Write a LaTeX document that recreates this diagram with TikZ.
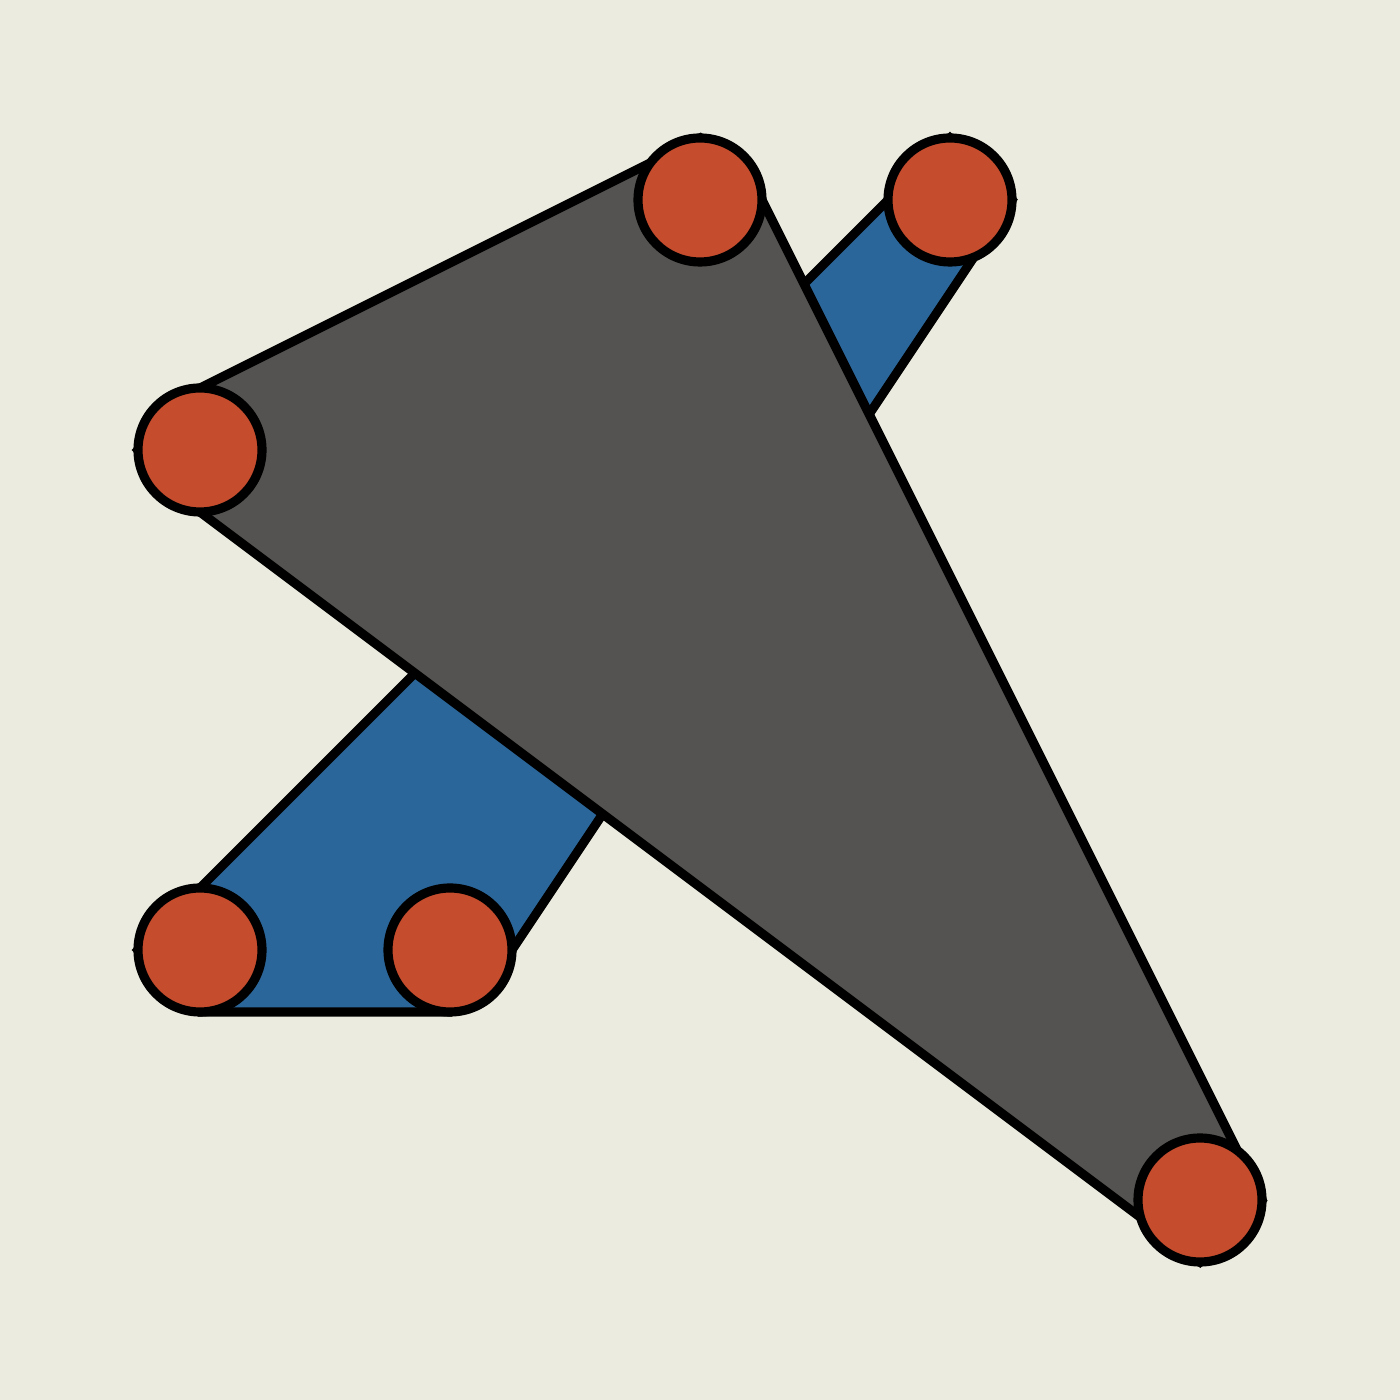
\documentclass[tikz,border=0pt]{standalone}
\usetikzlibrary{calc}
\definecolor{paper}{RGB}{235,235,224}
\definecolor{linkblue}{RGB}{43,102,154}
\definecolor{plategray}{RGB}{84,83,81}
\definecolor{pinred}{RGB}{197,76,45}
\tikzset{
        pin/.style={circle, draw=black, line width=2.6pt, fill=pinred, minimum size=1.24cm, inner sep=0pt},
        bar/.style={draw=black, line width=2.6pt, fill=linkblue},
        plate/.style={draw=black, line width=2.6pt, fill=plategray}
          }
\begin{document}
\begin{tikzpicture}
        \fill[paper] (0,0) rectangle (14,14);
        \useasboundingbox (0,0) rectangle (14,14);
        \def\r{0.62}
        \coordinate (a) at (2,4.5);
        \coordinate (b) at (4.5,4.5);
        \coordinate (c) at (9.5,12);
        \coordinate (d) at (7,12);
        \coordinate (e) at (2,9.5);
        \coordinate (f) at (12,2);
        \draw[bar] ($(a)+(-\r,0)$) -- ($(a)+(0,-\r)$) -- ($(b)+(0,-\r)$) -- ($(b)+(\r,0)$)
          -- ($(c)+(\r,0)$) -- ($(c)+(0,\r)$) -- cycle;
        \draw[plate] ($(d)+(0,\r)$) -- ($(d)+(\r,0)$) -- ($(f)+(\r,0)$) -- ($(f)+(0,-\r)$)
          -- ($(e)+(0,-\r)$) -- ($(e)+(-\r,0)$) -- ($(e)+(0,\r)$) -- cycle;
        \node[pin] (pa) at (a) {};
        \node[pin] (pb) at (b) {};
        \node[pin] (pc) at (c) {};
        \node[pin] (pd) at (d) {};
        \node[pin] (pe) at (e) {};
        \node[pin] (pf) at (f) {};
      \end{tikzpicture}
\end{document}
